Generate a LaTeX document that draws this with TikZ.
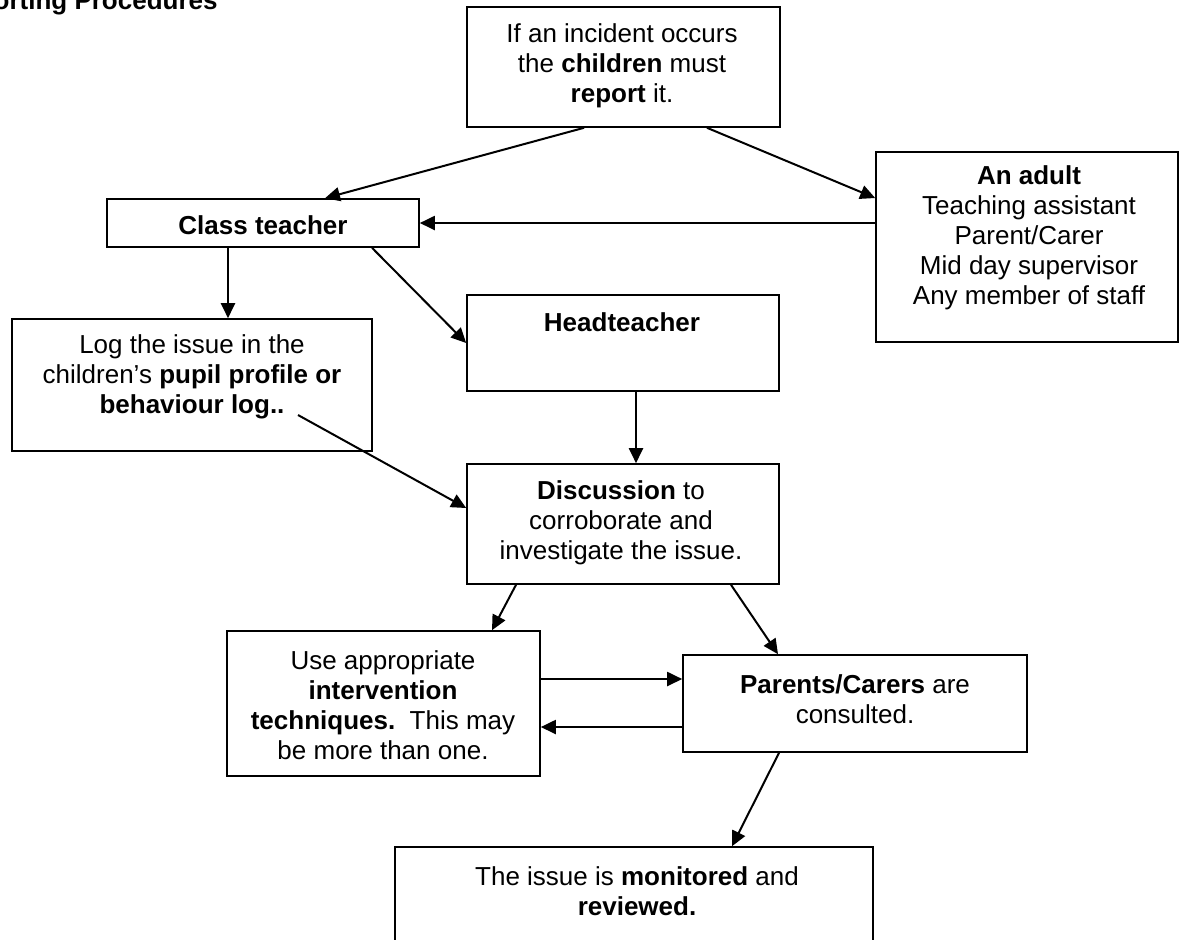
\documentclass[tikz,border=0pt]{standalone}
\usepackage{fontspec}
\setmainfont{Liberation Sans}
\usetikzlibrary{arrows.meta}
\begin{document}
\begin{tikzpicture}[x=0.5pt,y=-0.5pt,
  box/.style={draw, line width=0.8pt, inner sep=0pt},
  txt/.style={align=center, inner sep=0pt, font=\fontsize{13pt}{15pt}\selectfont},
  arr/.style={line width=1pt, -{Triangle[length=7.5pt,width=7pt]}}]
\useasboundingbox (0,0) rectangle (1181,939);
% title (partly cut off at the top edge, as in the reference)
\node[txt, anchor=base east, font=\fontsize{13pt}{15pt}\selectfont\bfseries] (title) at (218,9) {Reporting Procedures};
% boxes
\node[box, minimum width=156.5pt, minimum height=60pt] (top) at (623.5,67) {};
\node[txt] (topt) at (622,65.5) {If an incident occurs\\the \textbf{children} must\\\textbf{report} it.};
\node[box, minimum width=156pt, minimum height=24pt] (class) at (263,223) {};
\node[txt] (classt) at (263,225.5) {\textbf{Class teacher}};
\node[box, minimum width=151pt, minimum height=95pt] (adult) at (1027,247) {};
\node[txt] (adultt) at (1029,238) {\textbf{An adult}\\Teaching assistant\\Parent/Carer\\Mid day supervisor\\Any member of staff};
\node[box, minimum width=180pt, minimum height=66pt] (log) at (192,385) {};
\node[txt] (logt) at (192,377) {Log the issue in the\\children’s \textbf{pupil profile or}\\\textbf{behaviour log..}};
\node[box, minimum width=156pt, minimum height=48pt] (head) at (623,343) {};
\node[txt] (headt) at (622,322.5) {\textbf{Headteacher}};
\node[box, minimum width=156pt, minimum height=60pt] (disc) at (623,524) {};
\node[txt] (disct) at (621,523) {\textbf{Discussion} to\\corroborate and\\investigate the issue.};
\node[box, minimum width=156.5pt, minimum height=72.5pt] (use) at (383.5,703.5) {};
\node[txt] (uset) at (383,705) {Use appropriate\\\textbf{intervention}\\\textbf{techniques.}\ \ This may\\be more than one.};
\node[box, minimum width=172pt, minimum height=48.5pt] (parents) at (855,703.5) {};
\node[txt] (parentst) at (855,699) {\textbf{Parents/Carers} are\\consulted.};
\node[box, minimum width=239pt, minimum height=61.5pt] (mon) at (634,908.5) {};
\node[txt] (mont) at (637,891) {The issue is \textbf{monitored} and\\\textbf{reviewed.}};
% connectors
\coordinate (logend) at (298,415);
\draw[arr] ([xshift=-19.75pt]top.south) -- ([xshift=31pt]class.north);
\draw[arr] ([xshift=41.75pt]top.south) -- ([yshift=24.5pt]adult.west);
\draw[arr] ([yshift=12pt]adult.west) -- (class.east);
\draw[arr] ([xshift=-17.5pt]class.south) -- ([xshift=18pt]log.north);
\draw[arr] ([xshift=54.5pt]class.south) -- (head.west);
\draw[arr] ([xshift=6.5pt]head.south) -- ([xshift=6.5pt]disc.north);
\draw[arr] (logend) -- ([yshift=8pt]disc.west);
\draw[arr] ([xshift=-53.5pt]disc.south) -- ([xshift=54.25pt]use.north);
\draw[arr] ([xshift=54pt]disc.south) -- ([xshift=-38.5pt]parents.north);
\draw[arr] ([yshift=12.25pt]use.east) -- ([yshift=12.25pt]parents.west);
\draw[arr] ([yshift=-11.75pt]parents.west) -- ([yshift=-11.75pt]use.east);
\draw[arr] ([xshift=-38pt]parents.south) -- ([xshift=49pt]mon.north);
\end{tikzpicture}
\end{document}
